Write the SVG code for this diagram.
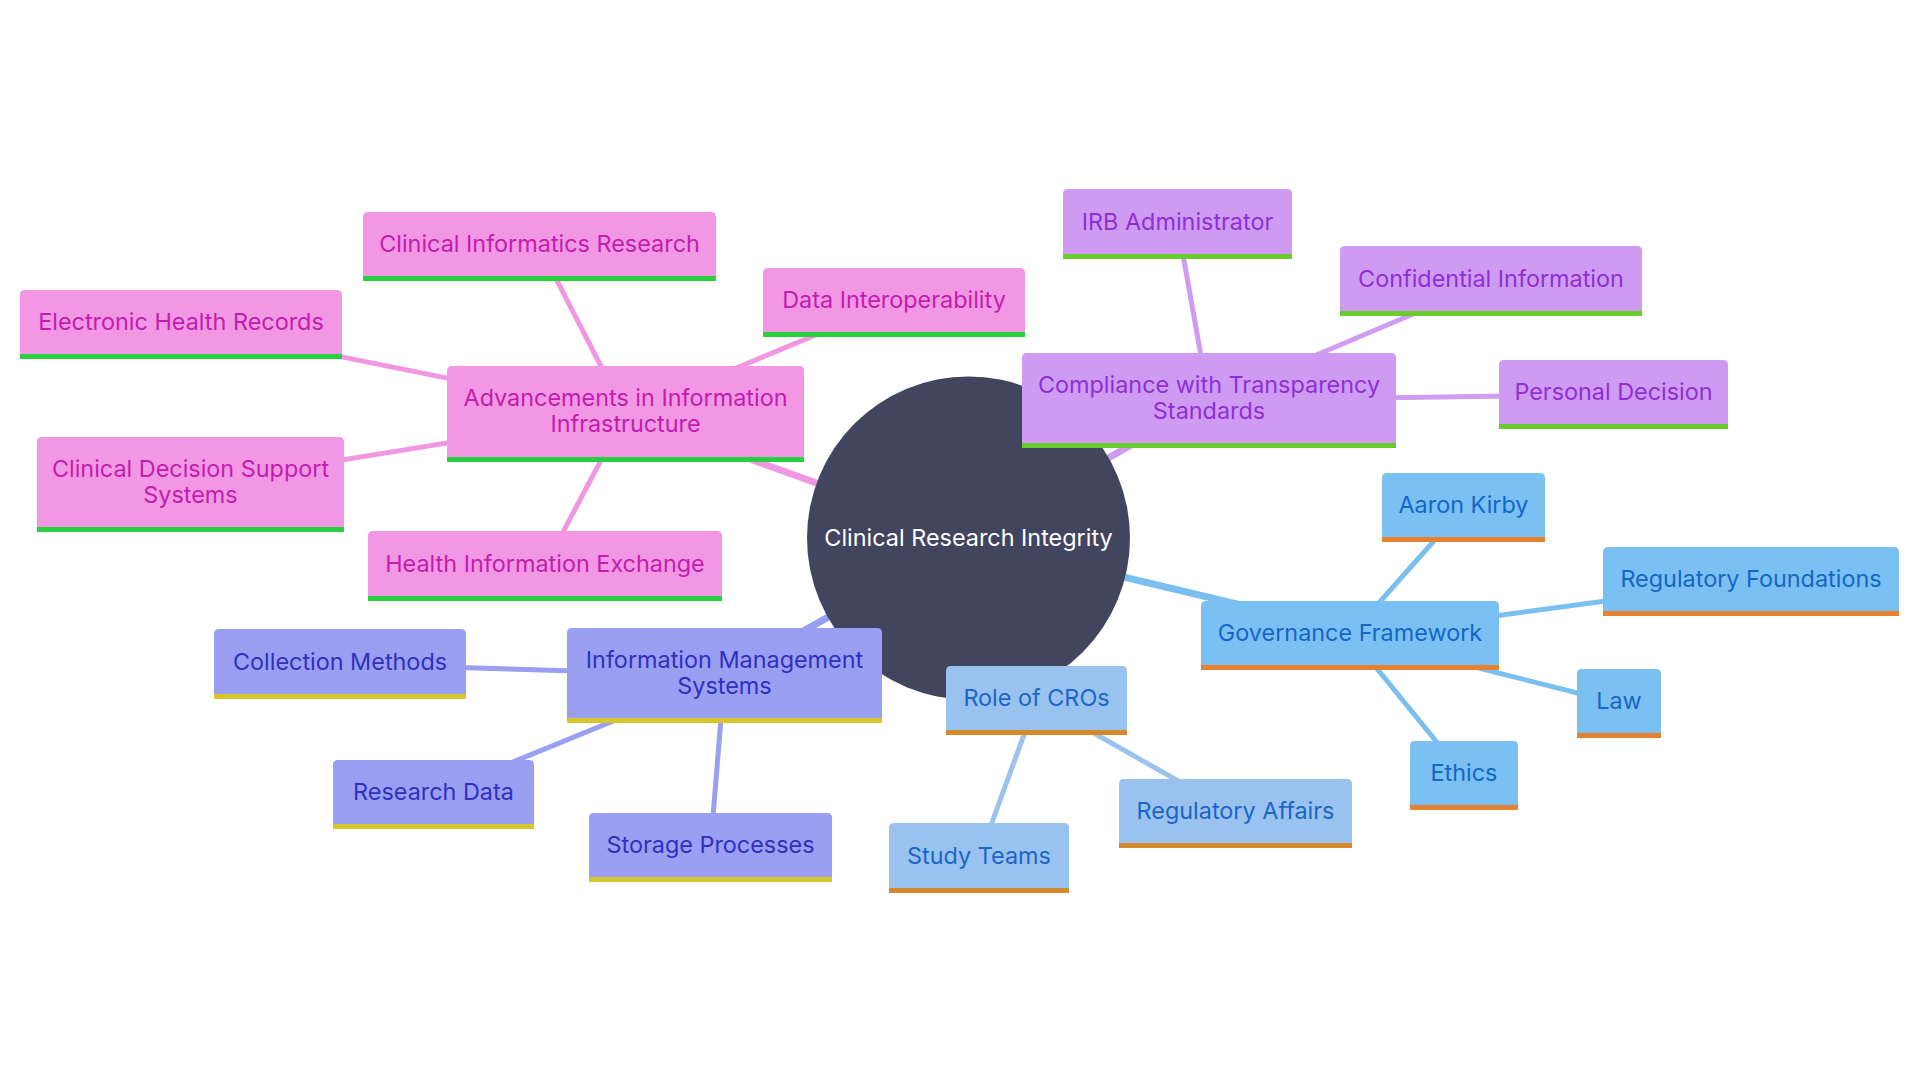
<svg xmlns="http://www.w3.org/2000/svg" width="1920" height="1080" viewBox="0 0 1920 1080">
<style>
text{font-family:Inter,"Noto Sans","Liberation Sans",sans-serif;font-size:23.4px;text-anchor:middle}
.e{fill:none;stroke-linecap:round}
.e0{stroke-width:7}
.e1{stroke-width:5}
.pk .bx{fill:#F297E3}.pk text{fill:#C21DAE}.pk .bar{fill:#27D03F}
.pu .bx{fill:#CF9BF2}.pu text{fill:#8E2FD6}.pu .bar{fill:#68CC2C}
.bl .bx{fill:#7BC0F2}.bl text{fill:#1766C4}.bl .bar{fill:#E8812E}
.lb .bx{fill:#9AC2EE}.lb text{fill:#1B66C8}.lb .bar{fill:#D6892C}
.ix .bx{fill:#9A9FF2}.ix text{fill:#3030C0}.ix .bar{fill:#D6C82A}
.cpk{stroke:#F197E1}.cpu{stroke:#CF9CF0}.cbl{stroke:#7BBFF0}.clb{stroke:#9CC3EE}.cix{stroke:#9A9FF2}
</style>
<rect width="1920" height="1080" fill="#ffffff"/>
<g id="connectors">
<line class="e e0 cpk" x1="968.5" y1="538" x2="625.5" y2="414"/>
<line class="e e0 cpu" x1="968.5" y1="538" x2="1209" y2="400.5"/>
<line class="e e0 cbl" x1="968.5" y1="540" x2="1350" y2="631"/>
<line class="e e0 clb" x1="968.5" y1="538" x2="1036.5" y2="700.5"/>
<line class="e e0 cix" x1="968.5" y1="538" x2="724.5" y2="675.5"/>
<line class="e e1 cpk" x1="625.5" y1="414" x2="539.5" y2="246.5"/>
<line class="e e1 cpk" x1="625.5" y1="414" x2="181" y2="324.5"/>
<line class="e e1 cpk" x1="625.5" y1="414" x2="190.5" y2="484.5"/>
<line class="e e1 cpk" x1="625.5" y1="414" x2="545" y2="566"/>
<line class="e e1 cpk" x1="625.5" y1="414" x2="894" y2="302.5"/>
<line class="e e1 cpu" x1="1209" y1="400.5" x2="1177.5" y2="224"/>
<line class="e e1 cpu" x1="1209" y1="400.5" x2="1491" y2="281"/>
<line class="e e1 cpu" x1="1209" y1="400.5" x2="1613.5" y2="394.5"/>
<line class="e e1 cbl" x1="1350" y1="635.5" x2="1463.5" y2="507.5"/>
<line class="e e1 cbl" x1="1350" y1="635.5" x2="1751" y2="581.5"/>
<line class="e e1 cbl" x1="1350" y1="635.5" x2="1619" y2="703.5"/>
<line class="e e1 cbl" x1="1350" y1="635.5" x2="1464" y2="775.5"/>
<line class="e e1 clb" x1="1036.5" y1="700.5" x2="979" y2="858"/>
<line class="e e1 clb" x1="1036.5" y1="700.5" x2="1235.5" y2="813.5"/>
<line class="e e1 cix" x1="724.5" y1="675.5" x2="340" y2="664"/>
<line class="e e1 cix" x1="724.5" y1="675.5" x2="433.5" y2="794.5"/>
<line class="e e1 cix" x1="724.5" y1="675.5" x2="710.5" y2="847.5"/>
</g>
<g id="n-adv" class="pk">
<path class="bx" d="M447 462V371Q447 366 452 366H799Q804 366 804 371V462Z"/><rect class="bar" x="447" y="457" width="357" height="5"/>
<text x="625.5" y="406">Advancements in Information</text><text x="625.5" y="432">Infrastructure</text>
</g>
<g id="n-cir" class="pk">
<path class="bx" d="M363 281V217Q363 212 368 212H711Q716 212 716 217V281Z"/><rect class="bar" x="363" y="276" width="353" height="5"/>
<text x="539.5" y="252">Clinical Informatics Research</text>
</g>
<g id="n-ehr" class="pk">
<path class="bx" d="M20 359V295Q20 290 25 290H337Q342 290 342 295V359Z"/><rect class="bar" x="20" y="354" width="322" height="5"/>
<text x="181" y="330">Electronic Health Records</text>
</g>
<g id="n-cdss" class="pk">
<path class="bx" d="M37 532V442Q37 437 42 437H339Q344 437 344 442V532Z"/><rect class="bar" x="37" y="527" width="307" height="5"/>
<text x="190.5" y="477">Clinical Decision Support</text><text x="190.5" y="503">Systems</text>
</g>
<g id="n-hie" class="pk">
<path class="bx" d="M368 601V536Q368 531 373 531H717Q722 531 722 536V601Z"/><rect class="bar" x="368" y="596" width="354" height="5"/>
<text x="545" y="571.5">Health Information Exchange</text>
</g>
<g id="n-di" class="pk">
<path class="bx" d="M763 337V273Q763 268 768 268H1020Q1025 268 1025 273V337Z"/><rect class="bar" x="763" y="332" width="262" height="5"/>
<text x="894" y="308">Data Interoperability</text>
</g>
<g id="n-root">
<circle cx="968.5" cy="538" r="161.5" fill="#41455E"/>
<text x="968.5" y="546" fill="#ffffff">Clinical Research Integrity</text>
</g>
<g id="n-comp" class="pu">
<path class="bx" d="M1022 448V358Q1022 353 1027 353H1391Q1396 353 1396 358V448Z"/><rect class="bar" x="1022" y="443" width="374" height="5"/>
<text x="1209" y="393">Compliance with Transparency</text><text x="1209" y="419">Standards</text>
</g>
<g id="n-irb" class="pu">
<path class="bx" d="M1063 259V194Q1063 189 1068 189H1287Q1292 189 1292 194V259Z"/><rect class="bar" x="1063" y="254" width="229" height="5"/>
<text x="1177.5" y="229.5">IRB Administrator</text>
</g>
<g id="n-ci" class="pu">
<path class="bx" d="M1340 316V251Q1340 246 1345 246H1637Q1642 246 1642 251V316Z"/><rect class="bar" x="1340" y="311" width="302" height="5"/>
<text x="1491" y="286.5">Confidential Information</text>
</g>
<g id="n-pd" class="pu">
<path class="bx" d="M1499 429V365Q1499 360 1504 360H1723Q1728 360 1728 365V429Z"/><rect class="bar" x="1499" y="424" width="229" height="5"/>
<text x="1613.5" y="400">Personal Decision</text>
</g>
<g id="n-gov" class="bl">
<path class="bx" d="M1201 670V606Q1201 601 1206 601H1494Q1499 601 1499 606V670Z"/><rect class="bar" x="1201" y="665" width="298" height="5"/>
<text x="1350" y="641">Governance Framework</text>
</g>
<g id="n-ak" class="bl">
<path class="bx" d="M1382 542V478Q1382 473 1387 473H1540Q1545 473 1545 478V542Z"/><rect class="bar" x="1382" y="537" width="163" height="5"/>
<text x="1463.5" y="513">Aaron Kirby</text>
</g>
<g id="n-rf" class="bl">
<path class="bx" d="M1603 616V552Q1603 547 1608 547H1894Q1899 547 1899 552V616Z"/><rect class="bar" x="1603" y="611" width="296" height="5"/>
<text x="1751" y="587">Regulatory Foundations</text>
</g>
<g id="n-law" class="bl">
<path class="bx" d="M1577 738V674Q1577 669 1582 669H1656Q1661 669 1661 674V738Z"/><rect class="bar" x="1577" y="733" width="84" height="5"/>
<text x="1619" y="709">Law</text>
</g>
<g id="n-eth" class="bl">
<path class="bx" d="M1410 810V746Q1410 741 1415 741H1513Q1518 741 1518 746V810Z"/><rect class="bar" x="1410" y="805" width="108" height="5"/>
<text x="1464" y="781">Ethics</text>
</g>
<g id="n-cro" class="lb">
<path class="bx" d="M946 735V671Q946 666 951 666H1122Q1127 666 1127 671V735Z"/><rect class="bar" x="946" y="730" width="181" height="5"/>
<text x="1036.5" y="706">Role of CROs</text>
</g>
<g id="n-st" class="lb">
<path class="bx" d="M889 893V828Q889 823 894 823H1064Q1069 823 1069 828V893Z"/><rect class="bar" x="889" y="888" width="180" height="5"/>
<text x="979" y="863.5">Study Teams</text>
</g>
<g id="n-ra" class="lb">
<path class="bx" d="M1119 848V784Q1119 779 1124 779H1347Q1352 779 1352 784V848Z"/><rect class="bar" x="1119" y="843" width="233" height="5"/>
<text x="1235.5" y="819">Regulatory Affairs</text>
</g>
<g id="n-ims" class="ix">
<path class="bx" d="M567 723V633Q567 628 572 628H877Q882 628 882 633V723Z"/><rect class="bar" x="567" y="718" width="315" height="5"/>
<text x="724.5" y="668">Information Management</text><text x="724.5" y="694">Systems</text>
</g>
<g id="n-cm" class="ix">
<path class="bx" d="M214 699V634Q214 629 219 629H461Q466 629 466 634V699Z"/><rect class="bar" x="214" y="694" width="252" height="5"/>
<text x="340" y="669.5">Collection Methods</text>
</g>
<g id="n-rd" class="ix">
<path class="bx" d="M333 829V765Q333 760 338 760H529Q534 760 534 765V829Z"/><rect class="bar" x="333" y="824" width="201" height="5"/>
<text x="433.5" y="800">Research Data</text>
</g>
<g id="n-sp" class="ix">
<path class="bx" d="M589 882V818Q589 813 594 813H827Q832 813 832 818V882Z"/><rect class="bar" x="589" y="877" width="243" height="5"/>
<text x="710.5" y="853">Storage Processes</text>
</g>
</svg>
